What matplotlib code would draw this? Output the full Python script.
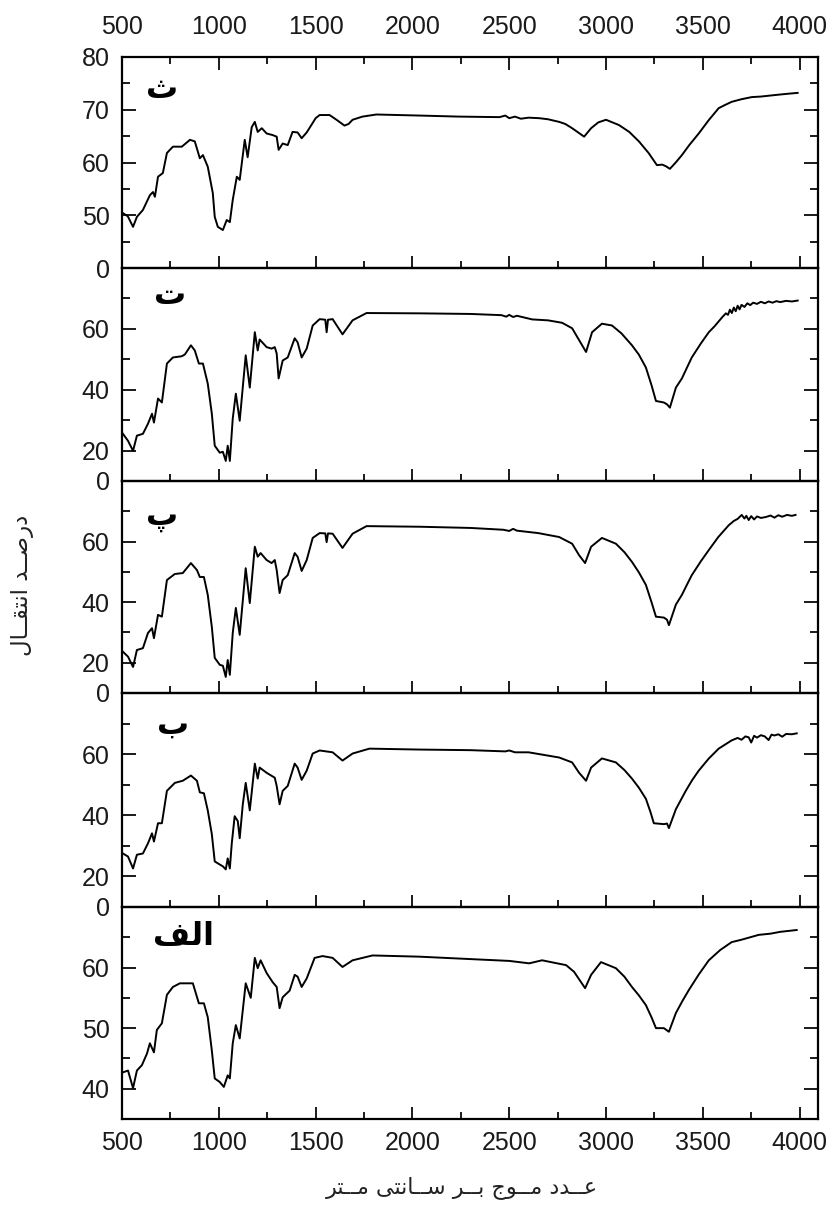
import matplotlib
matplotlib.use("Agg")
import matplotlib.pyplot as plt
from matplotlib.ticker import MultipleLocator, FixedLocator

# ---------------- data ----------------
panel_labels = ["ث", "ت", "پ", "ب", "الف"]

wn_th = [505, 530, 557, 577, 608, 644, 660, 670, 686, 711, 732, 763, 809, 851, 876, 902, 918, 943,
         969, 979, 995, 1021, 1041, 1057, 1072, 1093, 1108, 1134, 1149, 1170, 1186, 1201, 1222,
         1247, 1278, 1299, 1309, 1330, 1356, 1381, 1407, 1428, 1454, 1485, 1500, 1521, 1572, 1608,
         1649, 1670, 1691, 1742, 1814, 2036, 2242, 2450, 2480, 2500, 2530, 2560, 2600, 2655, 2700,
         2758, 2790, 2825, 2860, 2887, 2923, 2960, 3000, 3067, 3120, 3170, 3220, 3263, 3290, 3309,
         3330, 3360, 3392, 3430, 3479, 3530, 3582, 3620, 3649, 3700, 3753, 3800, 3876, 3930, 3990]
T_th = [50.4, 49.8, 47.8, 49.7, 51.0, 53.8, 54.4, 53.5, 57.3, 58.0, 61.8, 63.0, 63.0, 64.3, 64.0,
        60.8, 61.4, 59.2, 54.2, 49.7, 47.8, 47.2, 49.1, 48.7, 52.9, 57.3, 56.7, 64.3, 61.0, 66.7,
        67.7, 65.8, 66.5, 65.5, 65.2, 64.9, 62.4, 63.6, 63.3, 65.8, 65.7, 64.6, 65.7, 67.5, 68.4,
        69.0, 69.0, 68.1, 67.0, 67.3, 68.1, 68.7, 69.1, 68.9, 68.7, 68.6, 68.9, 68.4, 68.7, 68.3,
        68.5, 68.4, 68.2, 67.7, 67.3, 66.5, 65.6, 64.9, 66.5, 67.6, 68.1, 67.1, 65.8, 64.0, 61.8,
        59.5, 59.6, 59.3, 58.8, 60.0, 61.4, 63.3, 65.5, 68.0, 70.3, 71.0, 71.5, 72.0, 72.4, 72.5,
        72.8, 73.0, 73.2]

wn_te = [505, 531, 557, 577, 608, 634, 655, 665, 686, 706, 732, 763, 809, 825, 856, 876, 897, 918,
         943, 964, 979, 1005, 1021, 1036, 1046, 1057, 1072, 1088, 1108, 1139, 1160, 1186, 1201,
         1211, 1247, 1273, 1289, 1299, 1309, 1330, 1356, 1392, 1407, 1428, 1454, 1485, 1521, 1550,
         1557, 1564, 1588, 1639, 1691, 1763, 2036, 2300, 2460, 2485, 2500, 2520, 2540, 2619, 2700,
         2773, 2825, 2861, 2897, 2928, 2979, 3031, 3080, 3134, 3170, 3206, 3235, 3258, 3299, 3315,
         3330, 3361, 3392, 3420, 3443, 3490, 3531, 3560, 3600, 3619, 3630, 3640, 3650, 3660, 3670,
         3680, 3690, 3700, 3715, 3730, 3745, 3760, 3780, 3800, 3820, 3840, 3860, 3880, 3900, 3930,
         3960, 3990]
T_te = [25.5, 23.2, 19.9, 24.9, 25.5, 28.8, 32.1, 29.2, 37.1, 35.8, 48.6, 50.6, 51.0, 51.6, 54.6,
        52.9, 48.6, 48.6, 42.0, 32.1, 21.6, 19.3, 19.6, 16.6, 21.6, 16.6, 30.5, 38.7, 29.8, 51.3,
        40.7, 58.9, 52.9, 56.5, 54.0, 53.5, 54.0, 51.9, 43.7, 49.6, 50.6, 56.9, 55.6, 50.6, 53.5,
        61.1, 63.2, 63.0, 58.9, 63.0, 63.2, 58.2, 62.8, 65.2, 65.1, 64.9, 64.5, 64.0, 64.6, 63.9,
        64.3, 63.1, 62.8, 62.0, 60.2, 56.3, 52.4, 58.9, 61.7, 61.1, 58.5, 54.6, 51.5, 47.3, 41.5,
        36.3, 35.8, 35.2, 34.1, 40.7, 43.7, 47.5, 50.6, 55.2, 58.9, 60.8, 63.8, 65.1, 64.6, 66.3,
        65.2, 67.0, 65.8, 67.6, 66.4, 67.9, 67.2, 68.4, 67.8, 68.6, 68.2, 68.9, 68.4, 69.0, 68.6,
        69.1, 68.8, 69.2, 69.0, 69.3]

wn_pe = [505, 531, 557, 577, 608, 634, 655, 665, 686, 706, 732, 773, 814, 856, 887, 902, 923, 943,
         964, 979, 1005, 1021, 1036, 1046, 1057, 1072, 1088, 1108, 1139, 1160, 1186, 1201, 1216,
         1247, 1273, 1289, 1299, 1314, 1330, 1356, 1392, 1407, 1428, 1454, 1485, 1521, 1550, 1557,
         1564, 1588, 1639, 1691, 1763, 2036, 2300, 2470, 2500, 2520, 2540, 2650, 2758, 2825, 2861,
         2892, 2923, 2979, 3051, 3095, 3134, 3170, 3206, 3235, 3258, 3299, 3315, 3325, 3361, 3392,
         3420, 3443, 3490, 3531, 3580, 3634, 3660, 3680, 3701, 3715, 3725, 3737, 3750, 3765, 3780,
         3800, 3825, 3850, 3870, 3890, 3910, 3935, 3960, 3979]
T_pe = [23.6, 22.0, 18.6, 24.2, 24.8, 29.8, 31.4, 28.1, 35.8, 35.2, 47.3, 49.3, 49.6, 52.9, 50.6,
        48.3, 48.3, 42.4, 31.8, 21.6, 19.3, 19.0, 15.3, 20.9, 16.0, 29.8, 38.1, 29.2, 51.2, 39.7,
        58.3, 55.0, 56.2, 53.9, 52.9, 53.9, 50.6, 43.0, 47.3, 48.9, 56.2, 55.0, 50.3, 53.9, 61.2,
        62.8, 62.7, 59.8, 62.7, 62.6, 57.9, 62.6, 65.1, 64.9, 64.5, 63.9, 63.5, 64.2, 63.6, 62.8,
        61.5, 59.3, 55.5, 52.9, 58.3, 61.2, 59.3, 56.5, 53.3, 49.8, 45.7, 40.0, 35.2, 34.9, 34.2,
        32.4, 39.2, 42.4, 46.0, 48.9, 53.5, 57.2, 61.5, 65.4, 66.8, 67.5, 68.8, 67.6, 68.5, 67.1,
        68.4, 67.3, 68.3, 67.8, 68.1, 68.6, 67.9, 68.7, 68.2, 68.8, 68.5, 68.8]

wn_be = [505, 531, 557, 577, 608, 634, 655, 665, 686, 706, 732, 773, 814, 856, 887, 902, 923, 943,
         964, 979, 1005, 1021, 1036, 1046, 1057, 1067, 1082, 1098, 1108, 1124, 1139, 1160, 1186,
         1201, 1211, 1247, 1273, 1289, 1299, 1314, 1330, 1356, 1392, 1407, 1428, 1454, 1485, 1521,
         1588, 1639, 1691, 1778, 2036, 2300, 2480, 2500, 2530, 2600, 2758, 2825, 2861, 2897, 2923,
         2979, 3051, 3095, 3134, 3170, 3206, 3230, 3247, 3299, 3315, 3325, 3361, 3412, 3445, 3479,
         3530, 3582, 3649, 3680, 3700, 3720, 3737, 3750, 3765, 3780, 3800, 3820, 3840, 3855, 3870,
         3890, 3910, 3930, 3960, 3985]
T_be = [27.5, 26.5, 22.6, 27.1, 27.5, 30.8, 34.1, 31.4, 37.4, 37.4, 48.0, 50.6, 51.3, 53.0, 51.3,
        47.5, 47.2, 41.6, 33.8, 24.9, 23.9, 23.3, 22.3, 25.9, 22.6, 30.8, 39.7, 38.1, 32.5, 43.6,
        50.6, 41.6, 56.9, 52.0, 55.6, 53.9, 52.9, 52.3, 49.6, 43.6, 48.0, 49.6, 56.9, 55.6, 51.6,
        54.6, 60.2, 61.2, 60.6, 57.9, 60.2, 61.8, 61.5, 61.3, 60.9, 61.2, 60.6, 60.6, 58.9, 57.3,
        53.9, 51.3, 55.6, 58.6, 57.3, 54.8, 52.0, 49.0, 45.4, 41.0, 37.4, 37.1, 37.3, 35.8, 42.0,
        48.0, 51.5, 54.6, 58.5, 61.8, 64.5, 65.3, 64.7, 65.8, 65.5, 63.8, 66.0, 65.4, 66.2, 65.8,
        64.6, 66.4, 66.1, 66.5, 65.7, 66.6, 66.5, 66.8]

wn_alef = [505, 531, 557, 577, 603, 629, 644, 665, 680, 706, 732, 763, 799, 866, 897, 923, 943,
           964, 979, 1005, 1026, 1046, 1057, 1072, 1088, 1108, 1139, 1165, 1186, 1201, 1216, 1247,
           1278, 1299, 1314, 1330, 1366, 1392, 1407, 1428, 1454, 1495, 1536, 1588, 1639, 1691,
           1794, 2036, 2300, 2500, 2603, 2670, 2794, 2835, 2892, 2923, 2974, 3051, 3095, 3134,
           3170, 3206, 3235, 3258, 3299, 3325, 3361, 3395, 3428, 3480, 3531, 3590, 3649, 3700,
           3789, 3850, 3900, 3985]
T_alef = [42.7, 43.0, 40.1, 43.0, 43.9, 45.8, 47.5, 46.0, 49.7, 50.8, 55.5, 56.8, 57.4, 57.4,
          54.1, 54.1, 51.8, 46.3, 41.7, 41.1, 40.3, 42.2, 41.7, 47.5, 50.5, 48.3, 57.4, 55.0,
          61.6, 59.9, 61.2, 59.1, 57.6, 56.8, 53.3, 55.1, 56.2, 58.8, 58.5, 56.8, 58.2, 61.6,
          61.9, 61.6, 60.1, 61.2, 62.0, 61.8, 61.4, 61.1, 60.7, 61.2, 60.4, 59.3, 56.6, 58.8,
          60.9, 59.9, 58.5, 56.8, 55.4, 53.8, 51.8, 50.0, 50.0, 49.4, 52.5, 54.5, 56.3, 58.9,
          61.2, 62.9, 64.2, 64.6, 65.4, 65.6, 65.9, 66.2]

series_wn = [wn_th, wn_te, wn_pe, wn_be, wn_alef]
series_T = [T_th, T_te, T_pe, T_be, T_alef]

ylims = [(40, 80), (10, 80), (10, 80), (10, 80), (35, 70)]
ymajor = [[40, 50, 60, 70, 80], [10, 20, 40, 60], [10, 20, 40, 60], [10, 20, 40, 60], [40, 50, 60]]
ymajor_labels = [["0", "50", "60", "70", "80"], ["0", "20", "40", "60"], ["0", "20", "40", "60"],
                 ["0", "20", "40", "60"], ["40", "50", "60"]]
yminor = [[45, 55, 65, 75], [30, 50, 70], [30, 50, 70], [30, 50, 70], [45, 55, 65]]
xticks = [500, 1000, 1500, 2000, 2500, 3000, 3500, 4000]

xlabel_text = "عــدد مــوج بــر ســانتی مــتر"
ylabel_text = "درصــد انتقــال"

# ---------------- simple Persian shaping ----------------
FORMS = {
    'ا': ('\uFE8D', '\uFE8E', None, None),
    'ب': ('\uFE8F', '\uFE90', '\uFE91', '\uFE92'),
    'پ': ('\uFB56', '\uFB57', '\uFB58', '\uFB59'),
    'ت': ('\uFE95', '\uFE96', '\uFE97', '\uFE98'),
    'ث': ('\uFE99', '\uFE9A', '\uFE9B', '\uFE9C'),
    'ج': ('\uFE9D', '\uFE9E', '\uFE9F', '\uFEA0'),
    'د': ('\uFEA9', '\uFEAA', None, None),
    'ر': ('\uFEAD', '\uFEAE', None, None),
    'س': ('\uFEB1', '\uFEB2', '\uFEB3', '\uFEB4'),
    'ص': ('\uFEB9', '\uFEBA', '\uFEBB', '\uFEBC'),
    'ع': ('\uFEC9', '\uFECA', '\uFECB', '\uFECC'),
    'ف': ('\uFED1', '\uFED2', '\uFED3', '\uFED4'),
    'ق': ('\uFED5', '\uFED6', '\uFED7', '\uFED8'),
    'ل': ('\uFEDD', '\uFEDE', '\uFEDF', '\uFEE0'),
    'م': ('\uFEE1', '\uFEE2', '\uFEE3', '\uFEE4'),
    'ن': ('\uFEE5', '\uFEE6', '\uFEE7', '\uFEE8'),
    'و': ('\uFEED', '\uFEEE', None, None),
    'ی': ('\uFBFC', '\uFBFD', '\uFBFE', '\uFBFF'),
    'ـ': ('\u0640', '\u0640', '\u0640', '\u0640'),
}


def shape(text):
    out = []
    n = len(text)
    for i, c in enumerate(text):
        if c not in FORMS:
            out.append(c)
            continue
        prev = text[i - 1] if i > 0 else None
        nxt = text[i + 1] if i < n - 1 else None
        jp = prev in FORMS and FORMS[prev][2] is not None
        jn = nxt in FORMS and FORMS[c][2] is not None
        iso, fin, ini, med = FORMS[c]
        if jp and jn:
            g = med
        elif jp:
            g = fin
        elif jn:
            g = ini
        else:
            g = iso
        out.append(g)
    return ''.join(reversed(out))


# ---------------- figure ----------------
W, H = 830, 1206
fig = plt.figure(figsize=(W / 100, H / 100), dpi=100)
plt.rcParams['font.family'] = ['Liberation Sans', 'DejaVu Sans']

left_px, right_px = 122, 818
bounds = [57, 268, 481, 693, 907, 1119]
axes = []
for i in range(5):
    top, bot = bounds[i], bounds[i + 1]
    ax = fig.add_axes([left_px / W, 1 - bot / H, (right_px - left_px) / W, (bot - top) / H])
    axes.append(ax)

for i, ax in enumerate(axes):
    ax.plot(series_wn[i], series_T[i], color='black', lw=1.4)
    ax.set_xlim(500, 4095)
    ax.set_ylim(*ylims[i])
    ax.xaxis.set_major_locator(FixedLocator(xticks))
    ax.xaxis.set_minor_locator(MultipleLocator(250))
    ax.set_yticks(ymajor[i])
    ax.set_yticklabels(ymajor_labels[i])
    ax.yaxis.set_minor_locator(FixedLocator(yminor[i]))
    for s in ax.spines.values():
        s.set_linewidth(1.6)
    ax.tick_params(axis='both', which='both', direction='in', width=1.4, labelsize=18,
                   right=True, top=(i == 0), bottom=True,
                   labeltop=(i == 0), labelbottom=(i == 4), colors='#1a1a1a')
    ax.tick_params(axis='y', which='major', length=10, pad=9)
    ax.tick_params(axis='y', which='minor', length=6)
    ax.tick_params(axis='x', which='major', length=9)
    ax.tick_params(axis='x', which='minor', length=5)
    if i == 0:
        ax.tick_params(axis='x', which='major', pad=13)
    if i == 4:
        ax.tick_params(axis='x', which='major', pad=9)
    ax.patch.set_alpha(0)

label_pos = [(162, 89), (170, 296), (162, 517), (173, 725), (183, 936)]
for (px, py), lab in zip(label_pos, panel_labels):
    fig.text(px / W, 1 - py / H, shape(lab), family='DejaVu Sans', fontweight='bold',
             fontsize=23, ha='center', va='center')

fig.text(462 / W, 1 - 1188 / H, shape(xlabel_text), family='DejaVu Sans', fontsize=16,
         ha='center', va='center', color='#222222')
fig.text(22 / W, 1 - 585 / H, shape(ylabel_text), family='DejaVu Sans', fontsize=16.5,
         rotation=90, ha='center', va='center', color='#222222')

fig.savefig('out.png', dpi=100, facecolor='white')
